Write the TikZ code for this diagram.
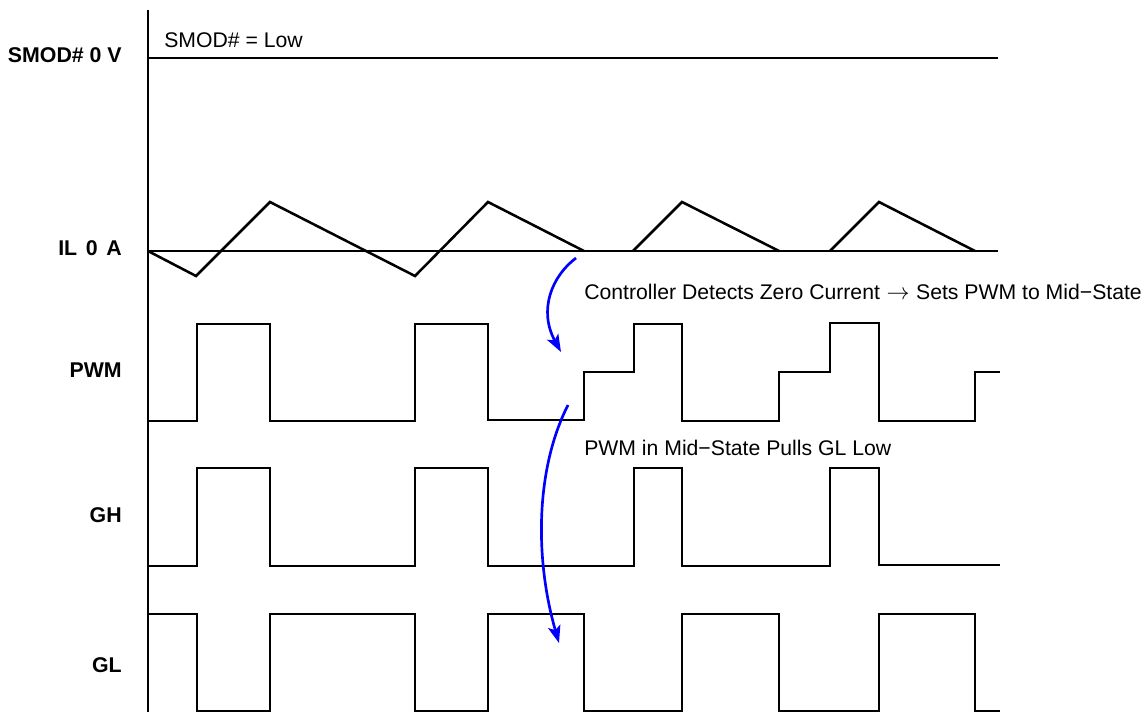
\documentclass[tikz,border=0pt]{standalone}
\usepackage{fontspec}
\setmainfont{Liberation Sans}
\usetikzlibrary{arrows.meta}
\tikzset{
 wave/.style={line width=1.9pt,line join=miter,black},
 lbl/.style={font=\bfseries\fontsize{16}{18}\selectfont,anchor=east,inner sep=0pt},
 note/.style={font=\fontsize{15.9}{18}\selectfont,anchor=west,inner sep=0pt},
 flow/.style={line width=2pt,draw={rgb,255:red,0;green,0;blue,255},-{Stealth[length=13pt,width=9.5pt,inset=3pt]}}
}
\begin{document}
\begin{tikzpicture}[x=0.75pt,y=-0.75pt]
\useasboundingbox (0,0) rectangle (1146,713);
% axis and base lines
\draw[wave] (148,10) -- (148,712);
\draw[wave] (148,58) -- (998,58);
\draw[wave] (148,251) -- (998,251);
% IL
\draw[wave] (148,251) -- (196,276) -- (270,202) -- (415,276) -- (488,202) -- (584,251);
\draw[wave] (633,251) -- (682,202) -- (779,251);
\draw[wave] (830,251) -- (879,202) -- (975,251);
% PWM
\draw[wave] (148,421) -- (197,421) -- (197,324) -- (270,324) -- (270,421) -- (415,421) -- (415,324) -- (488,324) -- (488,420) -- (584,420) -- (584,372) -- (634,372) -- (634,324) -- (682,324) -- (682,421) -- (779,421) -- (779,372) -- (830,372) -- (830,323) -- (879,323) -- (879,421) -- (975,421) -- (975,372) -- (1000,372);
% GH
\draw[wave] (148,566) -- (197,566) -- (197,468) -- (270,468) -- (270,566) -- (415,566) -- (415,468) -- (488,468) -- (488,566) -- (634,566) -- (634,468) -- (682,468) -- (682,566) -- (830,566) -- (830,468) -- (879,468) -- (879,565) -- (1000,565);
% GL
\draw[wave] (148,614) -- (197,614) -- (197,711) -- (270,711) -- (270,614) -- (415,614) -- (415,711) -- (488,711) -- (488,614) -- (584,614) -- (584,711) -- (682,711) -- (682,614) -- (779,614) -- (779,711) -- (879,711) -- (879,614) -- (975,614) -- (975,711) -- (1000,711);
% labels
\node[lbl] (smod) at (122,55) {SMOD\# 0 V};
\node[lbl] (il) at (122,248) {IL\hspace{2pt} 0\hspace{2pt} A};
\node[lbl] (pwm) at (122,370) {PWM};
\node[lbl] (gh) at (122,515) {GH};
\node[lbl] (gl) at (122,665) {GL};
\node[note] (low) at (164,40) {SMOD\# = Low};
\node[note] (ctl) at (584,292) {Controller Detects Zero Current\hspace{0.5pt} $\rightarrow$\hspace{0.5pt} Sets PWM to Mid−State};
\node[note] (mid) at (584,448) {PWM in Mid−State Pulls GL Low};
% arrows
\coordinate (a1) at (576,258);
\coordinate (a2) at (561,352);
\coordinate (b1) at (568,405);
\coordinate (b2) at (559,643);
\draw[flow] (a1) .. controls (552,276) and (538,310) .. (a2);
\draw[flow] (b1) .. controls (535,470) and (535,560) .. (b2);
\end{tikzpicture}
\end{document}
